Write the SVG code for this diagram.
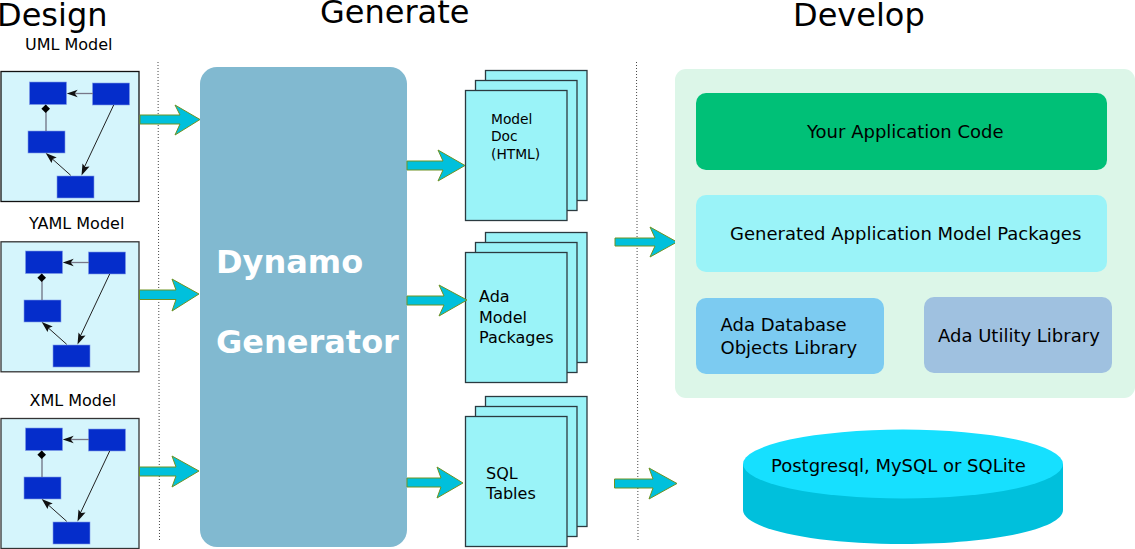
<svg xmlns="http://www.w3.org/2000/svg" width="1135" height="549" viewBox="0 0 1135 549">
<style>
text{font-family:"DejaVu Sans",sans-serif;fill:#000}
.h{font-size:32px}
.m{font-size:16px}
.t{font-size:18px}
.s{font-size:13.800px}
.f{font-size:16px}
.frame{fill:#d5f5fc;stroke:#333;stroke-width:1.300}
.c{fill:#052dcb;stroke:#7f9be8;stroke-width:.6}
.l{stroke:#222;stroke-width:1;fill:none}
.ah{fill:#111}
.page{fill:#9af3f8;stroke:#2b3a40;stroke-width:1.300}
.ar{fill:#00c0dc;stroke:#6f9222;stroke-width:1}
.div{stroke:#444;stroke-width:1;stroke-dasharray:1 2;fill:none}
</style>
<defs>
<g id="uml">
<rect class="c" x="29.500" y="82" width="37" height="22.500"/>
<rect class="c" x="92.500" y="83" width="37" height="22"/>
<rect class="c" x="28" y="131" width="37" height="22"/>
<rect class="c" x="57" y="176" width="37" height="22"/>
<path d="M46 105V131" stroke="#667" stroke-width="1.200" fill="none"/>
<path d="M45.700 104.500l4.300 4.300-4.300 4.300-4.300-4.300z" fill="#000"/>
<path d="M93 93.500H72" stroke="#778" stroke-width="1.300" fill="none"/>
<path class="l" d="M113.700 105L83 170M70.700 175.300L49 156"/>
<path class="ah" d="M66.700 93.500l11-3.800-3 3.800 3 3.800zM81.500 175.500l1-12 2.700 3.500 4.300-.5zM45.700 153l11 4.500-4 1.500-1.200 4z"/>
</g>
<g id="pages">
<rect class="page" x="20.500" y="0.500" width="101.500" height="130"/>
<rect class="page" x="10.500" y="10.500" width="101.500" height="130"/>
<rect class="page" x="0.500" y="20.500" width="101.500" height="130"/>
</g>
</defs>

<text class="h" x="-3" y="26">Design</text>
<text class="h" x="320" y="23">Generate</text>
<text class="h" x="793" y="26">Develop</text>

<g id="dividers">
<path class="div" d="M158 62L159.500 540"/>
<path class="div" d="M636.500 62L638 540"/>
</g>

<g id="uml-model">
<text class="m" x="25" y="50">UML Model</text>
<rect class="frame" x="1" y="71.500" width="138" height="130" style="stroke:#111"/>
<use href="#uml"/>
</g>
<g id="yaml-model">
<text class="m" x="29" y="229">YAML Model</text>
<rect class="frame" x="1" y="241.800" width="138" height="130"/>
<use href="#uml" x="-4" y="169"/>
</g>
<g id="xml-model">
<text class="m" x="29.500" y="406">XML Model</text>
<rect class="frame" x="1" y="418.500" width="138" height="130"/>
<use href="#uml" x="-4" y="346"/>
</g>

<g id="generator">
<rect x="200" y="67" width="207" height="480" rx="17" fill="#81b9d0"/>
<text x="216" y="272.500" font-size="32" font-weight="700" style="fill:#fff">Dynamo</text>
<text x="216" y="352.500" font-size="32" font-weight="700" style="fill:#fff">Generator</text>
</g>

<g id="model-doc">
<use href="#pages" x="465" y="70"/>
<text class="s" x="491" y="124">Model</text>
<text class="s" x="491" y="141">Doc</text>
<text class="s" x="491" y="159">(HTML)</text>
</g>
<g id="ada-packages">
<use href="#pages" x="465" y="232"/>
<text class="f" x="479" y="302">Ada</text>
<text class="f" x="479" y="323">Model</text>
<text class="f" x="479" y="343">Packages</text>
</g>
<g id="sql-tables">
<use href="#pages" x="465" y="396"/>
<text class="f" x="486" y="479">SQL</text>
<text class="f" x="486" y="499">Tables</text>
</g>

<g id="connectors">
<path class="ar" d="M140 115H180L175 105 200 119.500 175 135 180 124H140z"/>
<path class="ar" d="M139.500 290H176L172 279 199 294 172 311 176 299.500H139.500z"/>
<path class="ar" d="M139.500 467H176L172 456 199 471 172 487 176 476H139.500z"/>
<path class="ar" d="M407 161H443L438 150 465 165.500 438 181 443 170H407z"/>
<path class="ar" d="M407 296H444L439 285 467 300 439 316 444 305H407z"/>
<path class="ar" d="M407 478H441L437 467 463 483 437 498 441 487H407z"/>
<path class="ar" d="M615 238H655L650 227 677 242 650 257 655 246H615z"/>
<path class="ar" d="M614.500 479H653L649 468 677 483.500 649 499 653 488H614.500z"/>
</g>

<g id="develop">
<rect x="675" y="69" width="460" height="329" rx="11" fill="#dcf6e8"/>
</g>
<g id="app-code">
<rect x="696" y="93" width="411" height="77" rx="10" fill="#00c077"/>
<text class="t" x="807" y="138">Your Application Code</text>
</g>
<g id="app-packages">
<rect x="696" y="195" width="411" height="77" rx="10" fill="#9af3f8"/>
<text class="t" x="730" y="240">Generated Application Model Packages</text>
</g>
<g id="ada-db">
<rect x="696" y="298" width="188" height="76" rx="10" fill="#7ccbf1"/>
<text class="t" x="720.500" y="331">Ada Database</text>
<text class="t" x="720.500" y="354">Objects Library</text>
</g>
<g id="ada-util">
<rect x="924" y="297" width="188" height="76" rx="10" fill="#9fc1e0"/>
<text class="t" x="938" y="342">Ada Utility Library</text>
</g>
<g id="database">
<path d="M743 464V510C743 529 814 544 903 544S1063 529 1063 510V464z" fill="#00c0dc"/>
<ellipse cx="903" cy="464" rx="160" ry="34.500" fill="#16e0ff"/>
<text class="t" x="771" y="472">Postgresql, MySQL or SQLite</text>
</g>
</svg>
